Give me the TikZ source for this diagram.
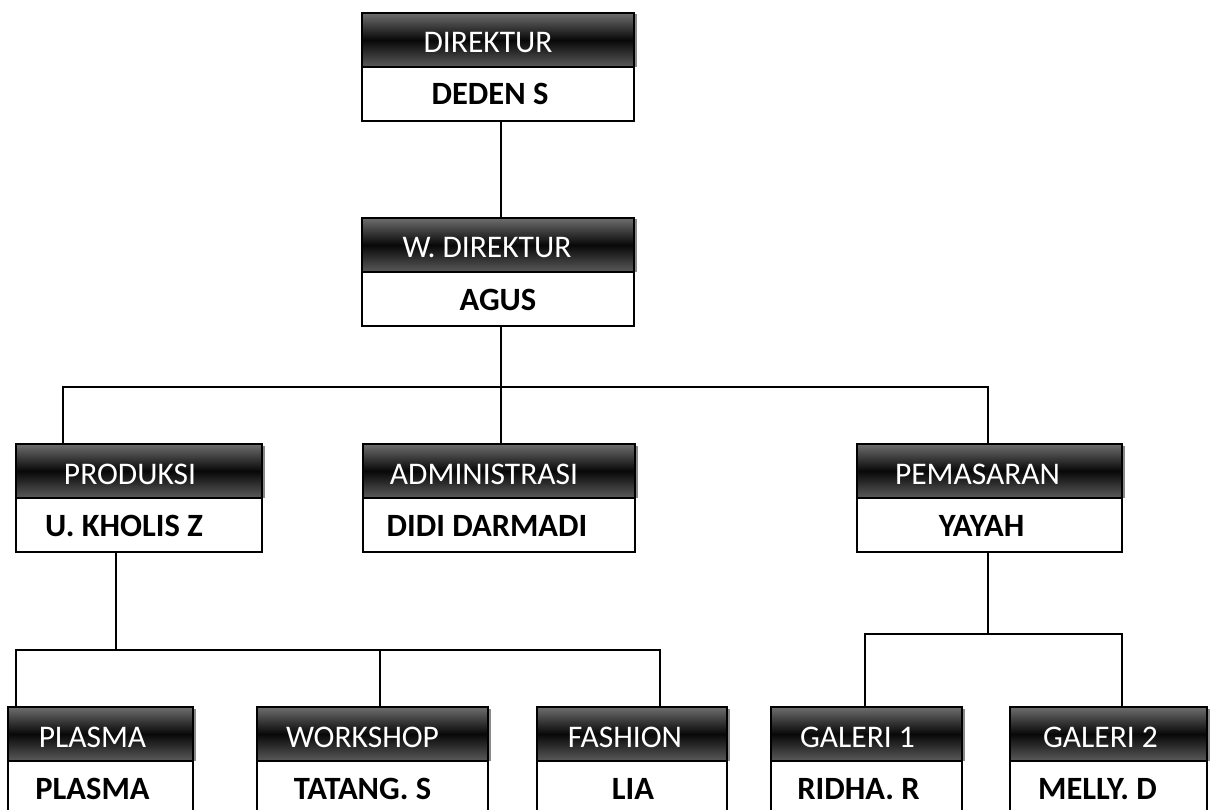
\documentclass[tikz,border=0pt]{standalone}
\usepackage{fontspec}
\setmainfont{Carlito}
\definecolor{htop}{HTML}{6E6E6E}
\definecolor{hmid}{HTML}{080808}
\definecolor{hbot}{HTML}{5A5A5A}
\definecolor{shadowc}{HTML}{8A8A8A}
\tikzset{
  headbox/.style={draw=black, line width=1.5pt, top color=htop, bottom color=hbot, middle color=hmid,
    inner sep=0pt, outer sep=0pt, minimum height=54pt, anchor=north west},
  namebox/.style={draw=black, line width=1.5pt, fill=white,
    inner sep=0pt, outer sep=0pt, minimum height=54pt, anchor=north west},
  headtxt/.style={anchor=base, inner sep=0pt, text=white, font=\fontsize{31.5}{36}\selectfont},
  nametxt/.style={anchor=base, inner sep=0pt, text=black, font=\fontsize{32.5}{36}\selectfont\bfseries},
  conn/.style={draw=black, line width=1.4pt}
}
\newcommand\orgunit[8]{%
  \pgfmathsetmacro\boxw{#3-#2}%
  \fill[shadowc] (#2+2.5,#4+1.5) rectangle (#3+2.5,#4+54);
  \node[headbox, minimum width=\boxw pt] (#1h) at (#2,#4) {};
  \node[namebox, minimum width=\boxw pt] (#1n) at (#1h.south west) {};
  \node[headtxt] (#1ht) at ([xshift=#7pt,yshift=-40pt]#1h.north) {#5};
  \node[nametxt] (#1nt) at ([xshift=#8pt,yshift=-92pt]#1h.north) {#6};
}
\begin{document}
\begin{tikzpicture}[x=1pt,y=-1pt]
\useasboundingbox (0,0) rectangle (1214,810);
\fill[white] (0,0) rectangle (1214,810);
\orgunit{d}{362}{634}{13}{DIREKTUR}{DEDEN S}{-10}{-8}
\orgunit{w}{362}{634}{218}{W. DIREKTUR}{AGUS}{-11}{0}
\orgunit{p}{16}{262}{444}{PRODUKSI}{U. KHOLIS Z}{-9}{-15}
\orgunit{a}{363}{635}{444}{ADMINISTRASI}{DIDI DARMADI}{-15}{-12}
\orgunit{m}{857}{1122}{444}{PEMASARAN}{YAYAH}{-12}{-8}
\orgunit{pl}{8}{193}{707}{PLASMA}{PLASMA}{-8}{-8}
\orgunit{ws}{257}{488}{707}{WORKSHOP}{TATANG. S}{-10}{-10}
\orgunit{f}{537}{727}{707}{FASHION}{LIA}{-7}{1}
\orgunit{ga}{771}{962}{707}{GALERI 1}{RIDHA. R}{-9}{-8}
\orgunit{gb}{1010}{1207}{707}{GALERI 2}{MELLY. D}{-8}{-11}
\coordinate (bus1) at (501,387);
\coordinate (bus1L) at (63,387);
\coordinate (bus1R) at (988,387);
\coordinate (bus2) at (116,650);
\coordinate (bus2L) at (16,650);
\coordinate (bus2M) at (380,650);
\coordinate (bus2R) at (660,650);
\coordinate (bus3) at (988,634);
\coordinate (bus3L) at (865,634);
\coordinate (bus3R) at (1122,634);
\draw[conn] (dn.south -| bus1) -- (wh.north -| bus1);
\draw[conn] (wn.south -| bus1) -- (bus1) -- (ah.north -| bus1);
\draw[conn] (ph.north -| bus1L) -- (bus1L) -- (bus1R) -- (mh.north -| bus1R);
\draw[conn] (pn.south -| bus2) -- (bus2);
\draw[conn] (plh.north -| bus2L) -- (bus2L) -- (bus2R) -- (fh.north -| bus2R);
\draw[conn] (bus2M) -- (wsh.north -| bus2M);
\draw[conn] (mn.south -| bus3) -- (bus3);
\draw[conn] (gah.north -| bus3L) -- (bus3L) -- (bus3R) -- (gbh.north -| bus3R);
\end{tikzpicture}
\end{document}
